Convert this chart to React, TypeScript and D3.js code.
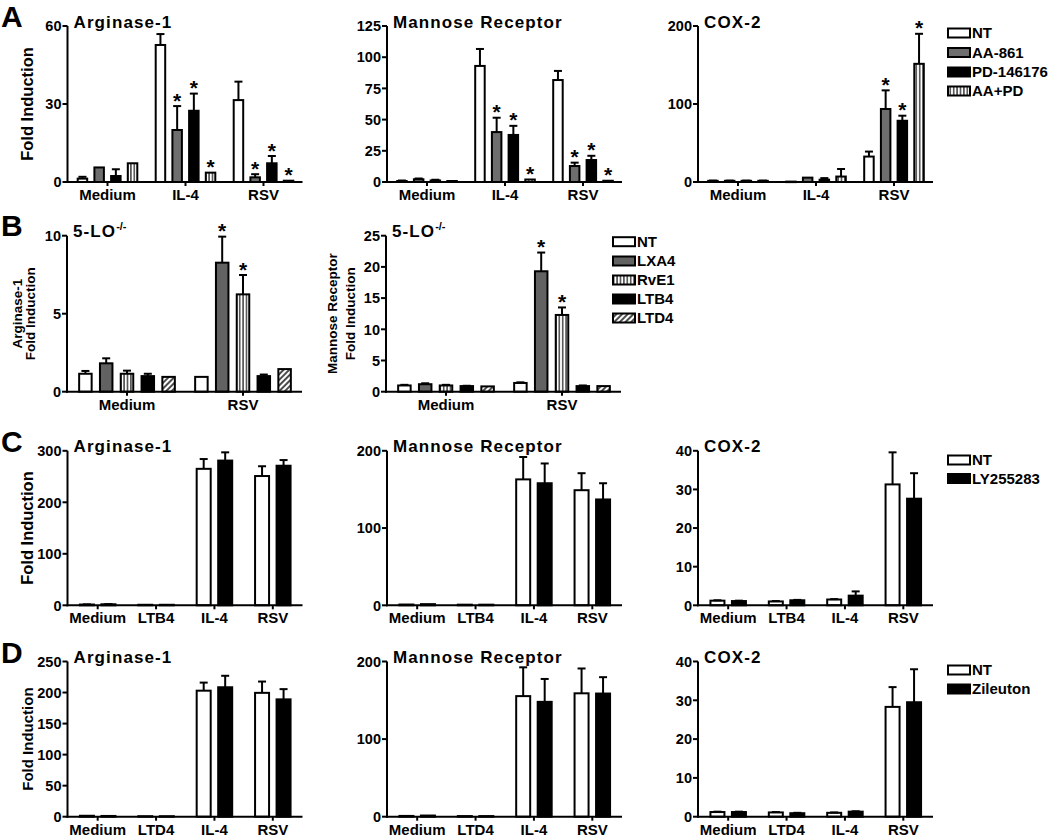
import React from 'react';
import * as d3 from 'd3';

const FONT = '"Liberation Sans", Arial, Helvetica, sans-serif';
const GRAY_A = '#6e6e6e';
const GRAY_B = '#626262';

// ---------- Panel A ----------
const aCategories = ['Medium', 'IL-4', 'RSV'];
const aSeries = ['NT', 'AA-861', 'PD-146176', 'AA+PD'];
const aArgMean = [[1.3, 52.7, 31.5], [5.6, 20, 1.8], [2.3, 27.4, 7.2], [7.2, 3.6, 0.5]];
const aArgErr = [[0.7, 4.2, 7.1], [0, 9.2, 1.2], [2.6, 6.6, 2.8], [0, 0, 0]];
const aArgStars = [[0, 0, 0], [0, 1, 1], [0, 1, 1], [0, 1, 1]];
const aArgTicks = [0, 30, 60];

const aMrMean = [[0.8, 93, 81.7], [2.2, 40, 12.8], [1.2, 37.7, 17.6], [0.8, 2, 1]];
const aMrErr = [[0.4, 13.6, 7.3], [0.6, 11.5, 2.7], [0.6, 7.3, 3.4], [0, 0, 0]];
const aMrStars = [[0, 0, 0], [0, 1, 1], [0, 1, 1], [0, 1, 1]];
const aMrTicks = [0, 25, 50, 75, 100, 125];

const aCoxMean = [[1.5, 0.5, 32.6], [1.5, 5.6, 93.6], [1.5, 3, 78.5], [1.5, 7, 151.5]];
const aCoxErr = [[0.3, 0, 6.4], [0.3, 0, 23.9], [0.3, 2, 6.5], [0.3, 9.7, 38.5]];
const aCoxStars = [[0, 0, 0], [0, 0, 1], [0, 0, 1], [0, 0, 1]];
const aCoxTicks = [0, 100, 200];

// ---------- Panel B ----------
const bCategories = ['Medium', 'RSV'];
const bSeries = ['NT', 'LXA4', 'RvE1', 'LTB4', 'LTD4'];
const bArgMean = [[1.15, 0.95], [1.82, 8.27], [1.15, 6.24], [1.0, 1.0], [0.95, 1.45]];
const bArgErr = [[0.18, 0], [0.32, 1.67], [0.2, 1.24], [0.15, 0.1], [0, 0]];
const bArgStars = [[0, 0], [0, 1], [0, 1], [0, 0], [0, 0]];
const bArgTicks = [0, 5, 10];

const bMrMean = [[1.0, 1.4], [1.2, 19.3], [1.0, 12.3], [0.9, 0.9], [0.85, 0.9]];
const bMrErr = [[0.1, 0.1], [0.15, 3.0], [0.1, 1.2], [0.05, 0.1], [0, 0]];
const bMrStars = [[0, 0], [0, 1], [0, 1], [0, 0], [0, 0]];
const bMrTicks = [0, 5, 10, 15, 20, 25];

// ---------- Panel C ----------
const cCategories = ['Medium', 'LTB4', 'IL-4', 'RSV'];
const cSeries = ['NT', 'LY255283'];
const cArgMean = [[1.5, 1.0, 265, 251], [2.0, 1.0, 281, 271]];
const cArgErr = [[0.3, 0, 19, 19], [0.3, 0, 16, 11]];
const cArgTicks = [0, 100, 200, 300];

const cMrMean = [[1.0, 0.8, 163, 149], [1.5, 0.8, 158, 137]];
const cMrErr = [[0, 0, 29, 22], [0, 0, 25.6, 21]];
const cMrTicks = [0, 100, 200];

const cCoxMean = [[1.2, 1.0, 1.5, 31.3], [1.1, 1.3, 2.5, 27.6]];
const cCoxErr = [[0.1, 0.1, 0.1, 8.3], [0.1, 0.1, 1.1, 6.6]];
const cCoxTicks = [0, 10, 20, 30, 40];

// ---------- Panel D ----------
const dCategories = ['Medium', 'LTD4', 'IL-4', 'RSV'];
const dSeries = ['NT', 'Zileuton'];
const dArgMean = [[1.5, 0.8, 203, 199.5], [1.2, 0.8, 208.5, 189]];
const dArgErr = [[0, 0, 13, 18.2], [0, 0, 18.5, 16.5]];
const dArgTicks = [0, 50, 100, 150, 200, 250];

const dMrMean = [[1.0, 0.8, 155.4, 159], [1.5, 0.8, 148, 158.7]];
const dMrErr = [[0, 0, 37.1, 32], [0, 0, 29.5, 21.1]];
const dMrTicks = [0, 100, 200];

const dCoxMean = [[1.2, 1.1, 1.0, 28.3], [1.2, 0.9, 1.3, 29.5]];
const dCoxErr = [[0.1, 0.1, 0.1, 5.1], [0.1, 0.1, 0.1, 8.5]];
const dCoxTicks = [0, 10, 20, 30, 40];

const fillsA = ['#fff', GRAY_A, '#000', 'url(#vstripe)'];
const fillsB = ['#fff', GRAY_B, 'url(#vstripe)', '#000', 'url(#diag)'];
const fillsCD = ['#fff', '#000'];

type PanelProps = {
  x0: number; y0: number; yTop: number; yMax: number; ticks: number[];
  cats: string[]; series: string[]; fills: string[];
  means: number[][]; errs: number[][]; stars?: number[][];
  gs: number; ge: number; pitch: number; barW: number;
  title: string; titleSup?: string;
  yLabel?: string[]; yLabelX?: number[]; yLabelSize?: number;
};

function Panel(p: PanelProps) {
  const y = d3.scaleLinear().domain([0, p.yMax]).range([p.y0, p.yTop]);
  const gx = d3.scaleBand<string>().domain(p.cats).range([p.x0 + p.gs, p.x0 + p.ge]).padding(0);
  const n = p.series.length;
  const pad = 1 - p.barW / p.pitch;
  const bx = d3.scaleBand<string>().domain(p.series)
    .range([-n * p.pitch / 2, n * p.pitch / 2]).paddingInner(pad).paddingOuter(pad / 2);
  const bw = bx.bandwidth();
  const xEnd = p.x0 + 235;
  const midY = (p.y0 + p.yTop) / 2;
  const els: any[] = [];
  p.series.forEach((s, si) => {
    p.cats.forEach((c, ci) => {
      const cx = (gx(c) as number) + gx.bandwidth() / 2;
      const bx0 = cx + (bx(s) as number);
      const bc = bx0 + bw / 2;
      const m = p.means[si][ci];
      const e = p.errs[si][ci];
      const yt = y(m);
      els.push(
        <rect key={`b${si}-${ci}`} x={bx0 + 1} y={yt} width={bw - 2} height={Math.max(p.y0 - yt, 0.5)}
          fill={p.fills[si]} stroke="#000" strokeWidth={2} />
      );
      if (e > 0) {
        const ye = y(m + e);
        els.push(<line key={`e${si}-${ci}`} x1={bc} x2={bc} y1={yt} y2={ye} stroke="#000" strokeWidth={2} />);
        els.push(<line key={`c${si}-${ci}`} x1={bc - 4} x2={bc + 4} y1={ye} y2={ye} stroke="#000" strokeWidth={2} />);
      }
      if (p.stars && p.stars[si][ci]) {
        const ye = y(m + e);
        els.push(
          <text key={`s${si}-${ci}`} x={bc} y={ye + 1.5} textAnchor="middle" fontSize={21} fontWeight="bold">*</text>
        );
      }
    });
  });
  return (
    <g fontFamily={FONT}>
      {els}
      <line x1={p.x0} x2={p.x0} y1={p.y0 + 1} y2={p.yTop} stroke="#000" strokeWidth={2} />
      <line x1={p.x0 - 1} x2={xEnd} y1={p.y0} y2={p.y0} stroke="#000" strokeWidth={2} />
      {p.ticks.map((t) => (
        <g key={`t${t}`}>
          <line x1={p.x0 - 5} x2={p.x0} y1={y(t)} y2={y(t)} stroke="#000" strokeWidth={2} />
          <text x={p.x0 - 6} y={y(t)} dy="0.36em" textAnchor="end" fontSize={14.5} fontWeight="bold">{t}</text>
        </g>
      ))}
      {p.cats.map((c) => {
        const cx = (gx(c) as number) + gx.bandwidth() / 2;
        return (
          <g key={`g${c}`}>
            <line x1={cx} x2={cx} y1={p.y0} y2={p.y0 + 4} stroke="#000" strokeWidth={2} />
            <text x={cx} y={p.y0 + 18} textAnchor="middle" fontSize={15} fontWeight="bold">{c}</text>
          </g>
        );
      })}
      <text x={p.x0 + 6} y={p.yTop + 1.5} fontSize={17} fontWeight="bold" letterSpacing={1.1}>
        {p.title}
        {p.titleSup ? <tspan fontSize={11} dy={-7} letterSpacing={0}>{p.titleSup}</tspan> : null}
      </text>
      {p.yLabel && p.yLabel.map((l, i) => (
        <text key={`yl${i}`} transform={`translate(${p.yLabelX![i]},${midY}) rotate(-90)`}
          textAnchor="middle" fontSize={p.yLabelSize || 14} fontWeight="bold">{l}</text>
      ))}
    </g>
  );
}

function Legend({ x, ys, labels, fills }: { x: number; ys: number[]; labels: string[]; fills: string[] }) {
  return (
    <g fontFamily={FONT}>
      {labels.map((l, i) => (
        <g key={l}>
          <rect x={x + 1} y={ys[i] - 4.5} width={22} height={9} fill={fills[i]} stroke="#000" strokeWidth={2} />
          <text x={x + 25} y={ys[i]} dy="0.36em" fontSize={15} fontWeight="bold">{l}</text>
        </g>
      ))}
    </g>
  );
}

export default function App() {
  const rowA = { y0: 182, yTop: 26, gs: 1, ge: 235, pitch: 16.7, barW: 11.5, cats: aCategories, series: aSeries, fills: fillsA };
  const rowB = { y0: 391.7, yTop: 235.7, gs: 2, ge: 234, pitch: 20.8, barW: 14.5, cats: bCategories, series: bSeries, fills: fillsB };
  const rowC = { y0: 605.3, yTop: 450.8, gs: 1, ge: 234.5, pitch: 21.5, barW: 16, cats: cCategories, series: cSeries, fills: fillsCD };
  const rowD = { y0: 816.7, yTop: 661.5, gs: 1, ge: 234.5, pitch: 21.5, barW: 16, cats: dCategories, series: dSeries, fills: fillsCD };
  return (
    <svg width={1050} height={837} style={{ position: 'absolute', left: 0, top: 0, background: '#fff' }}>
      <defs>
        <pattern id="vstripe" patternUnits="userSpaceOnUse" width={3.4} height={4}>
          <rect width={3.4} height={4} fill="#fff" />
          <line x1={1.7} x2={1.7} y1={0} y2={4} stroke="#000" strokeWidth={1.1} />
        </pattern>
        <pattern id="diag" patternUnits="userSpaceOnUse" width={4} height={4} patternTransform="rotate(45)">
          <rect width={4} height={4} fill="#fff" />
          <line x1={2} x2={2} y1={0} y2={4} stroke="#000" strokeWidth={1.4} />
        </pattern>
      </defs>
      <g fontFamily={FONT} fontWeight="bold" fontSize={30}>
        <text x={1} y={27}>A</text>
        <text x={1} y={236}>B</text>
        <text x={1} y={452}>C</text>
        <text x={1} y={663}>D</text>
      </g>

      <Panel {...rowA} x0={67.5} yMax={60} ticks={aArgTicks} means={aArgMean} errs={aArgErr} stars={aArgStars}
        title="Arginase-1" yLabel={['Fold Induction']} yLabelX={[33]} yLabelSize={16.5} />
      <Panel {...rowA} x0={387} yMax={125} ticks={aMrTicks} means={aMrMean} errs={aMrErr} stars={aMrStars}
        title="Mannose Receptor" />
      <Panel {...rowA} x0={698} yMax={200} ticks={aCoxTicks} means={aCoxMean} errs={aCoxErr} stars={aCoxStars}
        title="COX-2" />
      <Legend x={947} ys={[33, 52.5, 72, 91]} labels={aSeries} fills={fillsA} />

      <Panel {...rowB} x0={67} yMax={10} ticks={bArgTicks} means={bArgMean} errs={bArgErr} stars={bArgStars}
        title="5-LO" titleSup="-/-" yLabel={['Arginase-1', 'Fold Induction']} yLabelX={[22, 35]} yLabelSize={13.5} />
      <Panel {...rowB} x0={386} yMax={25} ticks={bMrTicks} means={bMrMean} errs={bMrErr} stars={bMrStars}
        title="5-LO" titleSup="-/-" yLabel={['Mannose Receptor', 'Fold Induction']} yLabelX={[337, 355]} yLabelSize={13.5} />
      <Legend x={612} ys={[241.7, 261, 280, 299, 318]} labels={bSeries} fills={fillsB} />

      <Panel {...rowC} x0={67.5} yMax={300} ticks={cArgTicks} means={cArgMean} errs={cArgErr}
        title="Arginase-1" yLabel={['Fold Induction']} yLabelX={[33]} yLabelSize={16.5} />
      <Panel {...rowC} x0={387} yMax={200} ticks={cMrTicks} means={cMrMean} errs={cMrErr}
        title="Mannose Receptor" />
      <Panel {...rowC} x0={698} yMax={40} ticks={cCoxTicks} means={cCoxMean} errs={cCoxErr}
        title="COX-2" />
      <Legend x={947} ys={[460, 478.5]} labels={cSeries} fills={fillsCD} />

      <Panel {...rowD} x0={67.5} yMax={250} ticks={dArgTicks} means={dArgMean} errs={dArgErr}
        title="Arginase-1" yLabel={['Fold Induction']} yLabelX={[33]} yLabelSize={15} />
      <Panel {...rowD} x0={387} yMax={200} ticks={dMrTicks} means={dMrMean} errs={dMrErr}
        title="Mannose Receptor" />
      <Panel {...rowD} x0={698} yMax={40} ticks={dCoxTicks} means={dCoxMean} errs={dCoxErr}
        title="COX-2" />
      <Legend x={947} ys={[670, 689]} labels={dSeries} fills={fillsCD} />
    </svg>
  );
}
